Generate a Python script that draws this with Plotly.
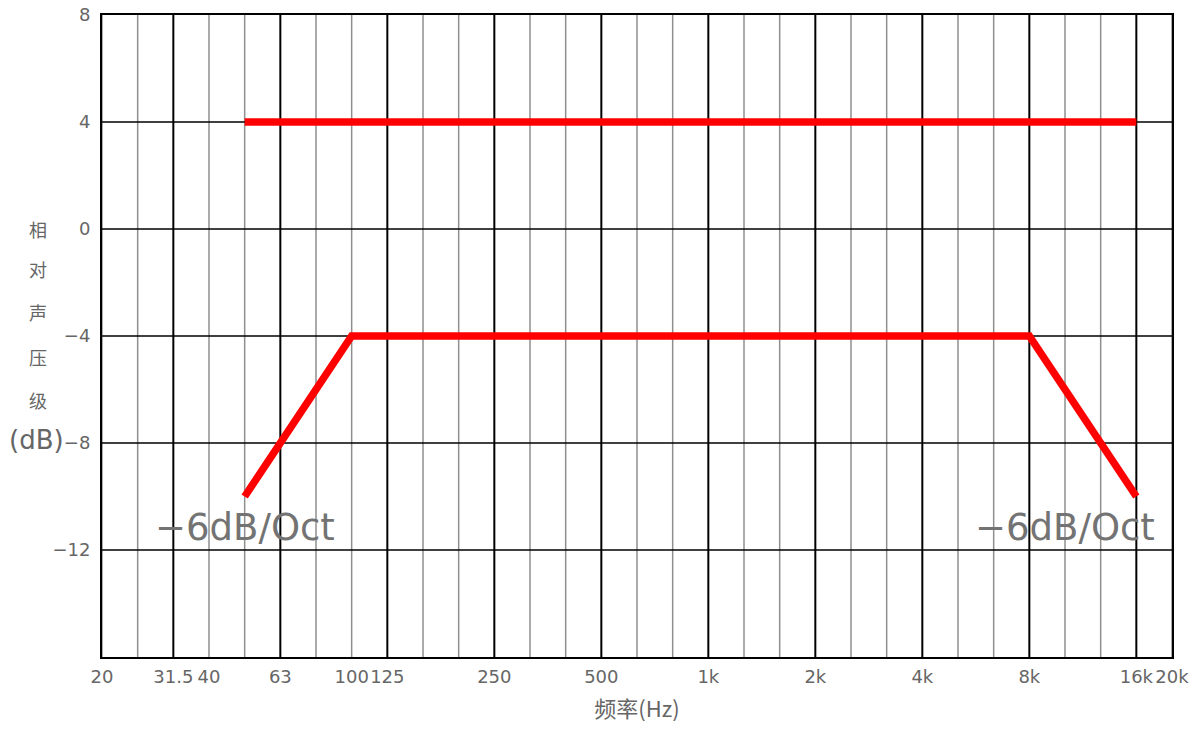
import plotly.graph_objects as go

# 1/3-octave band centre frequencies (Hz), evenly spaced along the x axis
bands = ["20", "25", "31.5", "40", "50", "63", "80", "100", "125", "160",
         "200", "250", "315", "400", "500", "630", "800", "1k", "1.25k", "1.6k",
         "2k", "2.5k", "3.15k", "4k", "5k", "6.3k", "8k", "10k", "12.5k", "16k", "20k"]
labelled_bands = ["20", "31.5", "40", "63", "100", "125", "250", "500",
                  "1k", "2k", "4k", "8k", "16k", "20k"]
octave_bands = ["31.5", "63", "125", "250", "500", "1k", "2k", "4k", "8k", "16k"]

# Tolerance limits (dB)
upper_freq = ["50", "16k"]
upper_db = [4, 4]
lower_freq = ["50", "100", "8k", "16k"]
lower_db = [-10, -4, -4, -10]

y_ticks = [8, 4, 0, -4, -8, -12]
y_range = [-16, 8]

idx = {b: i for i, b in enumerate(bands)}
GREY_TXT = "#666666"
FONT = "DejaVu Sans"
CJK = "Noto Sans CJK SC"

fig = go.Figure()
red = dict(color="#ff0000", width=7.5)
fig.add_trace(go.Scatter(x=[idx[f] for f in upper_freq], y=upper_db,
                         mode="lines", line=red, hoverinfo="skip"))
fig.add_trace(go.Scatter(x=[idx[f] for f in lower_freq], y=lower_db,
                         mode="lines", line=red, hoverinfo="skip"))

# grid: thin grey lines on every 1/3-octave band, black on octave bands
for b in bands:
    if b not in octave_bands:
        fig.add_shape(type="line", xref="x", yref="paper", x0=idx[b], x1=idx[b],
                      y0=0, y1=1, layer="below",
                      line=dict(color="#8f8f8f", width=1.5))
for b in octave_bands:
    fig.add_shape(type="line", xref="x", yref="paper", x0=idx[b], x1=idx[b],
                  y0=0, y1=1, layer="below", line=dict(color="#000000", width=2))
# horizontal dB grid lines
for v in y_ticks[1:]:
    fig.add_shape(type="line", xref="paper", yref="y", x0=0, x1=1, y0=v, y1=v,
                  layer="below", line=dict(color="#000000", width=1.5))

# slope labels
for xb, txt in [("50", "−6dB/Oct"), ("10k", "−6dB/Oct")]:
    fig.add_annotation(x=idx[xb], y=-11.15, xref="x", yref="y", text=txt,
                       showarrow=False, xanchor="center", yanchor="middle",
                       font=dict(family=FONT, size=37, color="#737373"))

# stacked vertical y-axis title
ytitle = [("相", 0.0), ("对", -1.5), ("声", -3.1), ("压", -4.8), ("级", -6.4)]
for ch, yv in ytitle:
    fig.add_annotation(x=-0.06, y=yv, xref="paper", yref="y", text=ch,
                       showarrow=False, xanchor="center", yanchor="middle",
                       font=dict(family=CJK, size=18, color=GREY_TXT))
fig.add_annotation(x=-0.061, y=-7.9, xref="paper", yref="y", text="(dB)",
                   showarrow=False, xanchor="center", yanchor="middle",
                   font=dict(family=FONT, size=26, color=GREY_TXT))

fig.update_layout(
    width=1196, height=734,
    margin=dict(l=102, r=24, t=15, b=77),
    paper_bgcolor="white", plot_bgcolor="white",
    showlegend=False,
    xaxis=dict(
        range=[0, len(bands) - 1],
        tickmode="array",
        tickvals=[idx[b] for b in labelled_bands],
        ticktext=labelled_bands,
        tickangle=0,
        showgrid=False,
        showline=True, linecolor="#000000", linewidth=2, mirror=True,
        ticks="", ticklabelstandoff=2, automargin=False,
        tickfont=dict(family=FONT, size=18, color=GREY_TXT),
        title=dict(text="频率(Hz)", standoff=16,
                   font=dict(family=CJK, size=22, color=GREY_TXT)),
        zeroline=False, fixedrange=True,
    ),
    yaxis=dict(
        range=y_range,
        tickmode="array",
        tickvals=y_ticks,
        ticktext=[("−" + str(abs(v))) if v < 0 else str(v) for v in y_ticks],
        showgrid=False,
        showline=True, linecolor="#000000", linewidth=2, mirror=True,
        ticks="", ticklabelstandoff=6, automargin=False,
        tickfont=dict(family=FONT, size=18, color=GREY_TXT),
        zeroline=False, fixedrange=True,
    ),
)

fig.write_html("out.html")
